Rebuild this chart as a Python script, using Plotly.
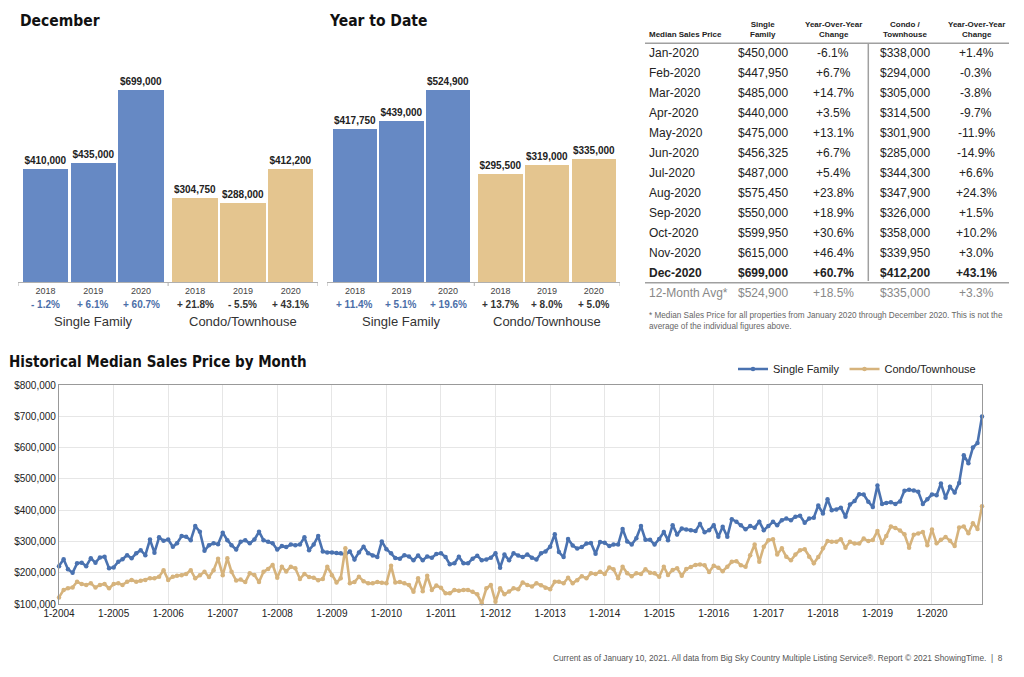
import plotly.graph_objects as go
import pandas as pd

W, H = 1024, 677


def px(x):
    return x / W


def py(y):
    return 1 - y / H


FONT = "Liberation Sans, Arial, Helvetica, sans-serif"
COND = "DejaVu Sans Condensed, Liberation Sans Narrow, sans-serif"
SF_BAR = "#6689c4"
CO_BAR = "#e4c58f"
SF_LINE = "#4a72b0"
CO_LINE = "#d6b37c"

# ---------------- data ----------------
years = ["2018", "2019", "2020"]
dec_sf = [410000, 435000, 699000]
dec_condo = [304750, 288000, 412200]
dec_sf_chg = ["- 1.2%", "+ 6.1%", "+ 60.7%"]
dec_condo_chg = ["+ 21.8%", "- 5.5%", "+ 43.1%"]

ytd_sf = [417750, 439000, 524900]
ytd_condo = [295500, 319000, 335000]
ytd_sf_chg = ["+ 11.4%", "+ 5.1%", "+ 19.6%"]
ytd_condo_chg = ["+ 13.7%", "+ 8.0%", "+ 5.0%"]

group_labels = ["Single Family", "Condo/Townhouse"]

table_months = ["Jan-2020", "Feb-2020", "Mar-2020", "Apr-2020", "May-2020", "Jun-2020",
                "Jul-2020", "Aug-2020", "Sep-2020", "Oct-2020", "Nov-2020", "Dec-2020"]
table_sf = [450000, 447950, 485000, 440000, 475000, 456325,
            487000, 575450, 550000, 599950, 615000, 699000]
table_sf_yoy = ["-6.1%", "+6.7%", "+14.7%", "+3.5%", "+13.1%", "+6.7%",
                "+5.4%", "+23.8%", "+18.9%", "+30.6%", "+46.4%", "+60.7%"]
table_condo = [338000, 294000, 305000, 314500, 301900, 285000,
               344300, 347900, 326000, 358000, 339950, 412200]
table_condo_yoy = ["+1.4%", "-0.3%", "-3.8%", "-9.7%", "-11.9%", "-14.9%",
                   "+6.6%", "+24.3%", "+1.5%", "+10.2%", "+3.0%", "+43.1%"]
avg_label = "12-Month Avg*"
avg_sf = 524900
avg_sf_yoy = "+18.5%"
avg_condo = 335000
avg_condo_yoy = "+3.3%"
table_headers = ["Median Sales Price", "Single<br>Family", "Year-Over-Year<br>Change",
                 "Condo /<br>Townhouse", "Year-Over-Year<br>Change"]
footnote = ("* Median Sales Price for all properties from January 2020 through December 2020. This is not the<br>"
            "average of the individual figures above.")

sf_monthly = [
    221000, 243000, 211000, 200000, 230000, 232000, 221000, 246000, 232000, 249000, 251000, 214000,  # 2004
    217000, 235000, 243000, 256000, 246000, 262000, 272000, 256000, 306000, 264000, 313000, 302000,  # 2005
    306000, 283000, 294000, 317000, 315000, 304000, 349000, 331000, 270000, 288000, 294000, 291000,  # 2006
    328000, 304000, 288000, 274000, 299000, 304000, 294000, 306000, 331000, 304000, 299000, 294000,  # 2007
    274000, 285000, 282000, 290000, 288000, 290000, 313000, 272000, 290000, 317000, 268000, 265000,  # 2008
    265000, 263000, 262000, 258000, 268000, 242000, 265000, 283000, 262000, 255000, 250000, 300000,  # 2009
    275000, 262000, 247000, 245000, 256000, 252000, 240000, 255000, 240000, 252000, 248000, 260000,  # 2010
    262000, 250000, 227000, 230000, 251000, 230000, 230000, 245000, 254000, 240000, 242000, 248000,  # 2011
    262000, 216000, 258000, 240000, 262000, 255000, 250000, 258000, 248000, 242000, 262000, 268000,  # 2012
    283000, 323000, 266000, 250000, 308000, 287000, 277000, 282000, 293000, 295000, 261000, 298000,  # 2013
    296000, 285000, 290000, 290000, 340000, 300000, 290000, 310000, 349000, 305000, 305000, 290000,  # 2014
    308000, 330000, 304000, 352000, 322000, 341000, 338000, 336000, 333000, 356000, 329000, 336000,  # 2015
    352000, 315000, 347000, 315000, 371000, 363000, 352000, 339000, 349000, 344000, 363000, 336000,  # 2016
    349000, 363000, 352000, 368000, 373000, 368000, 379000, 382000, 360000, 373000, 376000, 415000,  # 2017
    389000, 435000, 400000, 402000, 408000, 379000, 418000, 429000, 451000, 450000, 427000, 410000,  # 2018
    479000, 420000, 423000, 425000, 420000, 428000, 462000, 465000, 463000, 459000, 420000, 435000,  # 2019
    450000, 447950, 485000, 440000, 475000, 456325, 487000, 575450, 550000, 599950, 615000, 699000,  # 2020
]

condo_monthly = [
    121000, 145000, 150000, 153000, 171000, 164000, 161000, 166000, 153000, 161000, 164000, 150000,  # 2004
    164000, 166000, 161000, 171000, 177000, 171000, 174000, 177000, 182000, 182000, 187000, 208000,  # 2005
    177000, 187000, 190000, 192000, 196000, 208000, 182000, 192000, 203000, 186000, 208000, 245000,  # 2006
    192000, 246000, 203000, 175000, 178000, 170000, 198000, 193000, 170000, 203000, 212000, 225000,  # 2007
    184000, 219000, 204000, 219000, 214000, 180000, 196000, 186000, 184000, 176000, 180000, 219000,  # 2008
    192000, 169000, 182000, 278000, 166000, 170000, 187000, 173000, 166000, 166000, 170000, 168000,  # 2009
    166000, 222000, 169000, 170000, 166000, 161000, 139000, 182000, 141000, 190000, 145000, 159000,  # 2010
    152000, 134000, 134000, 145000, 142000, 145000, 145000, 139000, 131000, 102000, 150000, 161000,  # 2011
    107000, 150000, 131000, 140000, 150000, 147000, 169000, 161000, 156000, 166000, 160000, 152000,  # 2012
    147000, 171000, 171000, 166000, 184000, 166000, 176000, 189000, 182000, 198000, 196000, 203000,  # 2013
    196000, 217000, 211000, 182000, 219000, 198000, 189000, 198000, 196000, 211000, 200000, 198000,  # 2014
    187000, 219000, 193000, 209000, 214000, 190000, 212000, 218000, 225000, 226000, 224000, 202000,  # 2015
    222000, 216000, 205000, 219000, 235000, 237000, 224000, 219000, 256000, 290000, 235000, 283000,  # 2016
    304000, 307000, 258000, 278000, 251000, 240000, 258000, 272000, 275000, 251000, 230000, 250000,  # 2017
    278000, 301000, 299000, 299000, 307000, 280000, 299000, 293000, 293000, 309000, 301000, 304750,  # 2018
    333000, 295000, 317000, 348000, 343000, 335000, 323000, 280000, 321000, 325000, 330000, 288000,  # 2019
    338000, 294000, 305000, 314500, 301900, 285000, 344300, 347900, 326000, 358000, 339950, 412200,  # 2020
]

month_dates = pd.date_range("2004-01-01", "2020-12-01", freq="MS")
year_ticks = pd.date_range("2004-01-01", "2020-01-01", freq="YS")
year_tick_text = [f"1-{d.year}" for d in year_ticks]

y_ticks = [100000, 200000, 300000, 400000, 500000, 600000, 700000, 800000]

footer = ("Current as of January 10, 2021. All data from Big Sky Country Multiple Listing Service®. "
          "Report © 2021 ShowingTime.  |  8")

# ---------------- figure ----------------
fig = go.Figure()
annotations = []
shapes = []

GAP = 0.13
positions = [0, 1, 2, 3 + GAP, 4 + GAP, 5 + GAP]


def add_bar_panel(n, sf_vals, co_vals, sf_chg, co_chg, x0, x1, left_pad, right_pad, title):
    xa = "x" if n == 1 else f"x{n}"
    ya = "y" if n == 1 else f"y{n}"
    vals = sf_vals + co_vals
    colors = [SF_BAR] * len(sf_vals) + [CO_BAR] * len(co_vals)
    fig.add_trace(go.Bar(
        x=positions, y=vals, width=0.95, marker=dict(color=colors, line=dict(width=0)),
        text=[f"${v:,}" for v in vals], texttemplate="<b>%{text}</b>",
        textposition="outside", constraintext="none", cliponaxis=False,
        textfont=dict(size=10, color="#222", family=FONT),
        xaxis=xa, yaxis=ya, showlegend=False, hoverinfo="skip"))
    base, top_px, bar_top = 282, 60, 90
    ymax = max(vals) * (base - top_px) / (base - bar_top)
    xr = [positions[0] - left_pad, positions[-1] + right_pad]
    fig.update_layout(**{
        ("xaxis" if n == 1 else f"xaxis{n}"): dict(
            domain=[px(x0), px(x1)], range=xr, anchor=ya, automargin=False,
            tickvals=positions, ticktext=years + years, ticks="",
            tickfont=dict(size=9, color="#444", family=FONT),
            showline=True, linecolor="#b0b0b0", linewidth=1, showgrid=False, zeroline=False, fixedrange=True),
        ("yaxis" if n == 1 else f"yaxis{n}"): dict(
            domain=[py(base), py(top_px)], range=[0, ymax], anchor=xa, automargin=False,
            visible=False, showgrid=False, fixedrange=True),
    })
    mid = (positions[2] + positions[3]) / 2
    for xv in [xr[0], mid, xr[1]]:
        shapes.append(dict(type="line", xref=xa, yref="paper", x0=xv, x1=xv, y0=py(282), y1=py(286),
                           line=dict(color="#b0b0b0", width=1)))
    for p, t in zip(positions[:3], sf_chg):
        annotations.append(dict(x=p, y=py(304), xref=xa, yref="paper", text=f"<b>{t}</b>", showarrow=False,
                                font=dict(size=10, color="#4b6ea8", family=FONT)))
    for p, t in zip(positions[3:], co_chg):
        annotations.append(dict(x=p, y=py(304), xref=xa, yref="paper", text=f"<b>{t}</b>", showarrow=False,
                                font=dict(size=10, color="#333", family=FONT)))
    for g, lab in enumerate(group_labels):
        annotations.append(dict(x=positions[3 * g + 1], y=py(321), xref=xa, yref="paper", text=lab,
                                showarrow=False, font=dict(size=13, color="#333", family=FONT)))
    annotations.append(dict(x=px(x0), y=py(20.5), xref="paper", yref="paper", xanchor="left", yanchor="middle",
                            text=f"<b>{title}</b>", showarrow=False,
                            font=dict(size=15.5, color="#111", family=COND)))


add_bar_panel(1, dec_sf, dec_condo, dec_sf_chg, dec_condo_chg, 18, 318, 0.575, 0.57, "December")
add_bar_panel(2, ytd_sf, ytd_condo, ytd_sf_chg, ytd_condo_chg, 327, 620, 0.60, 0.566, "Year to Date")

# ---------------- table ----------------
col_x = [647, 763, 833, 905, 976]
annotations.append(dict(x=px(col_x[0]), y=py(34.3), xref="paper", yref="paper", xanchor="left",
                        yanchor="middle", text=f"<b>{table_headers[0]}</b>", showarrow=False,
                        font=dict(size=8, color="#222", family=FONT)))
for cx, h in zip(col_x[1:], table_headers[1:]):
    annotations.append(dict(x=px(cx), y=py(29), xref="paper", yref="paper", xanchor="center",
                            yanchor="middle", text=f"<b>{h}</b>", showarrow=False,
                            font=dict(size=8, color="#222", family=FONT)))

for i, m in enumerate(table_months):
    yy = py(53.3 + 20 * i)
    bold = i == len(table_months) - 1
    cells = [m, f"${table_sf[i]:,}", table_sf_yoy[i], f"${table_condo[i]:,}", table_condo_yoy[i]]
    for j, (cx, c) in enumerate(zip(col_x, cells)):
        annotations.append(dict(x=px(cx), y=yy, xref="paper", yref="paper",
                                xanchor="left" if j == 0 else "center", yanchor="middle",
                                text=f"<b>{c}</b>" if bold else c, showarrow=False,
                                font=dict(size=12, color="#222", family=FONT)))

avg_cells = [avg_label, f"${avg_sf:,}", avg_sf_yoy, f"${avg_condo:,}", avg_condo_yoy]
for j, (cx, c) in enumerate(zip(col_x, avg_cells)):
    annotations.append(dict(x=px(cx), y=py(292.7), xref="paper", yref="paper",
                            xanchor="left" if j == 0 else "center", yanchor="middle", text=c, showarrow=False,
                            font=dict(size=12, color="#888", family=FONT)))

annotations.append(dict(x=px(647), y=py(321), xref="paper", yref="paper", xanchor="left", yanchor="middle",
                        align="left", text=footnote, showarrow=False,
                        font=dict(size=8.2, color="#666", family=FONT)))

for yline in [43.3, 282.7]:
    shapes.append(dict(type="line", xref="paper", yref="paper", x0=px(645), x1=px(1009),
                       y0=py(yline), y1=py(yline), line=dict(color="#a0a0a0", width=1.5)))
shapes.append(dict(type="line", xref="paper", yref="paper", x0=px(868.3), x1=px(868.3),
                   y0=py(43.3), y1=py(281), line=dict(color="#a0a0a0", width=1.5)))

# ---------------- line chart ----------------
fig.add_trace(go.Scatter(x=month_dates, y=sf_monthly, mode="lines+markers", name="Single Family",
                         line=dict(color=SF_LINE, width=2.6), marker=dict(size=4.5, color=SF_LINE),
                         xaxis="x3", yaxis="y3", cliponaxis=False))
fig.add_trace(go.Scatter(x=month_dates, y=condo_monthly, mode="lines+markers", name="Condo/Townhouse",
                         line=dict(color=CO_LINE, width=2.6), marker=dict(size=4.5, color=CO_LINE),
                         xaxis="x3", yaxis="y3", cliponaxis=False))

fig.update_layout(
    xaxis3=dict(domain=[px(59), px(982)], range=[month_dates[0], month_dates[-1]], anchor="y3",
                automargin=False, tickvals=year_ticks, ticktext=year_tick_text, ticks="",
                tickfont=dict(size=10, color="#222", family=FONT),
                showgrid=True, gridcolor="#e6e6e6", gridwidth=1,
                showline=True, linecolor="#999", linewidth=1.2, mirror=True, zeroline=False),
    yaxis3=dict(domain=[py(604), py(385)], range=[100000, 800000], anchor="x3",
                automargin=False, tickvals=y_ticks, tickformat="$,.0f", ticks="",
                tickfont=dict(size=10, color="#222", family=FONT),
                showgrid=True, gridcolor="#e6e6e6", gridwidth=1,
                showline=True, linecolor="#999", linewidth=1.2, mirror=True, zeroline=False),
)

annotations.append(dict(x=px(7), y=py(361.7), xref="paper", yref="paper", xanchor="left", yanchor="middle",
                        text="<b>Historical Median Sales Price by Month</b>", showarrow=False,
                        font=dict(size=15, color="#111", family=COND)))
annotations.append(dict(x=px(1005), y=py(658), xref="paper", yref="paper", xanchor="right", yanchor="middle",
                        text=footer, showarrow=False, font=dict(size=8.3, color="#555", family=FONT)))

fig.update_layout(
    template="none",
    width=W, height=H, margin=dict(l=0, r=0, t=0, b=0, autoexpand=False),
    paper_bgcolor="white", plot_bgcolor="white",
    font=dict(family=FONT, color="#222"),
    showlegend=True,
    legend=dict(orientation="h", x=px(733), y=py(369), xanchor="left", yanchor="middle",
                font=dict(size=11, color="#222", family=FONT), itemwidth=30,
                bgcolor="rgba(0,0,0,0)", tracegroupgap=0),
    annotations=annotations, shapes=shapes, bargap=0,
)

fig.write_html("out.html", config={"displayModeBar": False},
               post_script="document.body.style.margin='0';document.body.style.padding='0';")
